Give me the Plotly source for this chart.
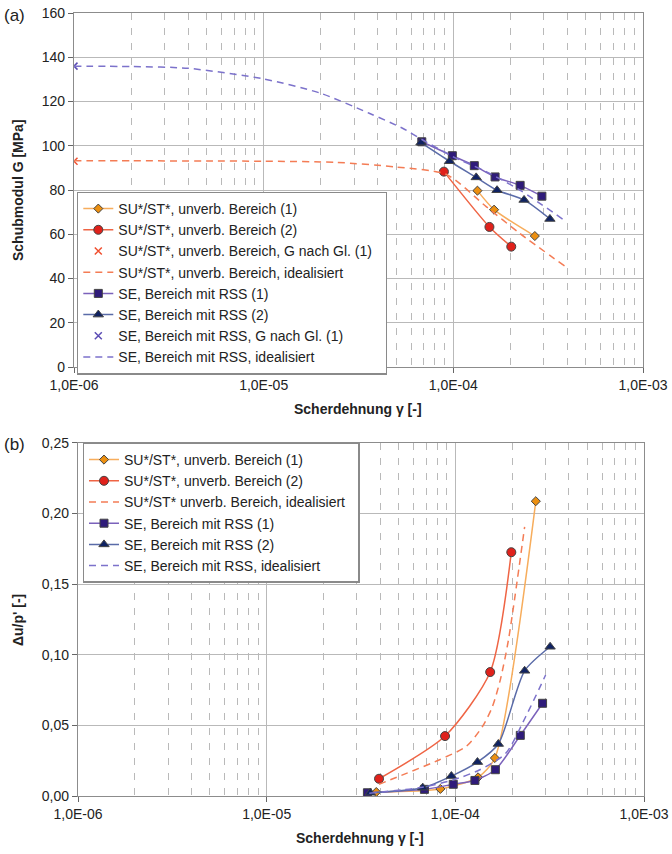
import plotly.graph_objects as go

# ---------------- data (a) ----------------
su1_x = [1.34e-4, 1.64e-4, 2.69e-4]
su1_g = [79.7, 71.1, 59.2]
su2_x = [8.92e-5, 1.55e-4, 2.02e-4]
su2_g = [88.3, 63.3, 54.4]
su_gl_x = [1e-6]
su_gl_g = [93.0]
su_id_x = [1e-6, 2e-6, 5e-6, 1e-5, 2.4e-5, 5e-5, 9.2e-5, 1.49e-4, 2.24e-4, 3.94e-4]
su_id_g = [93.2, 93.2, 93.1, 93.0, 92.5, 90.4, 87.0, 72.5, 60.4, 45.1]
se1_x = [6.82e-5, 9.88e-5, 1.29e-4, 1.66e-4, 2.25e-4, 2.93e-4]
se1_g = [101.8, 95.5, 91.0, 85.9, 82.1, 77.2]
se2_x = [6.75e-5, 9.55e-5, 1.32e-4, 1.70e-4, 2.36e-4, 3.23e-4]
se2_g = [101.4, 93.0, 85.7, 79.9, 75.5, 66.9]
se_gl_x = [1e-6]
se_gl_g = [136.0]
se_id_x = [1e-6, 2e-6, 4e-6, 1e-5, 2e-5, 3.6e-5, 5.4e-5, 6.9e-5, 1e-4, 1.49e-4, 2.24e-4, 3.94e-4]
se_id_g = [135.9, 135.8, 135.0, 130.2, 123.7, 114.7, 107.9, 102.6, 95.0, 88.3, 80.0, 65.7]

# ---------------- data (b) ----------------
b_su1_x = [3.81e-5, 8.33e-5, 1.32e-4, 1.62e-4, 2.67e-4]
b_su1_u = [0.0028, 0.005, 0.0132, 0.0269, 0.2086]
b_su2_x = [3.94e-5, 8.82e-5, 1.53e-4, 1.98e-4]
b_su2_u = [0.0122, 0.0424, 0.0877, 0.1725]
b_suid_x = [3.94e-5, 5.5e-5, 8.2e-5, 1.14e-4, 1.39e-4, 1.57e-4, 1.73e-4, 1.91e-4, 2.33e-4]
b_suid_u = [0.0083, 0.016, 0.0255, 0.035, 0.049, 0.063, 0.082, 0.110, 0.1905]
b_se1_x = [3.42e-5, 6.86e-5, 9.75e-5, 1.27e-4, 1.63e-4, 2.21e-4, 2.90e-4]
b_se1_u = [0.0023, 0.0047, 0.0083, 0.011, 0.0186, 0.0429, 0.0656]
b_se2_x = [3.54e-5, 6.72e-5, 9.53e-5, 1.31e-4, 1.69e-4, 2.33e-4, 3.18e-4]
b_se2_u = [0.0023, 0.0059, 0.0141, 0.024, 0.0368, 0.0886, 0.1056]
b_seid_x = [3.5e-5, 6.7e-5, 9.7e-5, 1.34e-4, 1.85e-4, 2.36e-4, 3.01e-4]
b_seid_u = [0.002, 0.0062, 0.0113, 0.0184, 0.0302, 0.0561, 0.0856]

x_tickvals = [1e-6, 1e-5, 1e-4, 1e-3]
x_ticktext = ["1,0E-06", "1,0E-05", "1,0E-04", "1,0E-03"]
ya_tickvals = [0, 20, 40, 60, 80, 100, 120, 140, 160]
yb_tickvals = [0, 0.05, 0.10, 0.15, 0.20, 0.25]
yb_ticktext = ["0,00", "0,05", "0,10", "0,15", "0,20", "0,25"]

# ---------------- styles ----------------
C_OR_LINE = "#f7ad5c"
C_OR_MK = "#ec8f10"
C_RD_LINE = "#ef6444"
C_RD_MK = "#e0211b"
C_RD_DASH = "#f47c55"
C_B1_LINE = "#7b62bb"
C_B1_MK = "#2f1b7a"
C_B2_LINE = "#5a6ba8"
C_B2_MK = "#0f2262"
C_B_X = "#5b4cb4"
C_B_DASH = "#7c72cb"
MK_LINE = dict(color="#444", width=1)
DASH = "7px,5px"
NB = "\u00a0\u00a0"

fig = go.Figure()

def add(x, y, name, mode, color, xa, ya, legend, marker=None, dash=None, width=1.5):
    tr = dict(x=x, y=y, name=name, mode=mode, xaxis=xa, yaxis=ya, legend=legend)
    if "lines" in mode:
        tr["line"] = dict(color=color, width=width, shape="spline", smoothing=0.7,
                          dash=dash if dash else "solid")
    if marker:
        tr["marker"] = marker
    fig.add_trace(go.Scatter(**tr))

# (a)
add(su1_x, su1_g, "SU*/ST*, unverb. Bereich (1)", "lines+markers", C_OR_LINE, "x", "y", "legend",
    marker=dict(symbol="diamond", size=7, color=C_OR_MK, line=MK_LINE))
add(su2_x, su2_g, "SU*/ST*, unverb. Bereich (2)", "lines+markers", C_RD_LINE, "x", "y", "legend",
    marker=dict(symbol="circle", size=9, color=C_RD_MK, line=MK_LINE))
add(su_gl_x, su_gl_g, "SU*/ST*, unverb. Bereich, G nach Gl. (1)" + NB, "markers", None, "x", "y", "legend",
    marker=dict(symbol="x-thin", size=7, color=C_RD_DASH, line=dict(color="#f05030", width=1.5)))
add(su_id_x, su_id_g, "SU*/ST*, unverb. Bereich, idealisiert", "lines", C_RD_DASH, "x", "y", "legend",
    dash=DASH)
add(se1_x, se1_g, "SE, Bereich mit RSS (1)", "lines+markers", C_B1_LINE, "x", "y", "legend",
    marker=dict(symbol="square", size=8, color=C_B1_MK, line=MK_LINE))
add(se2_x, se2_g, "SE, Bereich mit RSS (2)", "lines+markers", C_B2_LINE, "x", "y", "legend",
    marker=dict(symbol="triangle-up", size=9, color=C_B2_MK, line=MK_LINE))
add(se_gl_x, se_gl_g, "SE, Bereich mit RSS, G nach Gl. (1)", "markers", None, "x", "y", "legend",
    marker=dict(symbol="x-thin", size=7, color=C_B_X, line=dict(color=C_B_X, width=1.5)))
add(se_id_x, se_id_g, "SE, Bereich mit RSS, idealisiert", "lines", C_B_DASH, "x", "y", "legend",
    dash=DASH)

# (b)
add(b_su1_x, b_su1_u, "SU*/ST*, unverb. Bereich (1)", "lines+markers", C_OR_LINE, "x2", "y2", "legend2",
    marker=dict(symbol="diamond", size=7, color=C_OR_MK, line=MK_LINE))
add(b_su2_x, b_su2_u, "SU*/ST*, unverb. Bereich (2)", "lines+markers", C_RD_LINE, "x2", "y2", "legend2",
    marker=dict(symbol="circle", size=9, color=C_RD_MK, line=MK_LINE))
add(b_suid_x, b_suid_u, "SU*/ST* unverb. Bereich, idealisiert" + NB, "lines", C_RD_DASH, "x2", "y2", "legend2",
    dash=DASH)
add(b_se1_x, b_se1_u, "SE, Bereich mit RSS (1)", "lines+markers", C_B1_LINE, "x2", "y2", "legend2",
    marker=dict(symbol="square", size=8, color=C_B1_MK, line=MK_LINE))
add(b_se2_x, b_se2_u, "SE, Bereich mit RSS (2)", "lines+markers", C_B2_LINE, "x2", "y2", "legend2",
    marker=dict(symbol="triangle-up", size=9, color=C_B2_MK, line=MK_LINE))
add(b_seid_x, b_seid_u, "SE, Bereich mit RSS, idealisiert", "lines", C_B_DASH, "x2", "y2", "legend2",
    dash=DASH)

W, H = 672, 854
GRID = "#b9b9b9"
AXL = "#8c8c8c"
FONT = "Liberation Sans, Arial, sans-serif"

def xax(dom, anchor):
    return dict(type="log", range=[-6, -3], domain=dom, anchor=anchor, automargin=False,
                tickmode="array", tickvals=x_tickvals, ticktext=x_ticktext,
                showgrid=True, gridcolor=GRID, gridwidth=1.3,
                showline=True, linecolor=AXL, linewidth=1.3, mirror=True,
                ticks="outside", ticklen=5, tickcolor="#666", zeroline=False,
                tickfont=dict(size=14, color="#222"),
                minor=dict(dtick="D1", showgrid=True, gridcolor=GRID, gridwidth=1.3,
                           griddash="7px,8px", ticks=""))

def yax(dom, anchor, rng, tv, tt):
    return dict(range=rng, domain=dom, anchor=anchor, automargin=False,
                tickmode="array", tickvals=tv, ticktext=tt,
                showgrid=True, gridcolor=GRID, gridwidth=1.3,
                showline=True, linecolor=AXL, linewidth=1.3, mirror=True,
                ticks="outside", ticklen=5, tickcolor="#666", zeroline=False,
                tickfont=dict(size=14, color="#222"))

fig.update_layout(
    template="none",
    width=W, height=H, margin=dict(l=0, r=0, t=0, b=0, pad=0, autoexpand=False),
    plot_bgcolor="white", paper_bgcolor="white",
    font=dict(family=FONT, size=14, color="#222"),
    xaxis=xax([74 / W, 643 / W], "y"),
    yaxis=yax([1 - 367 / H, 1 - 13 / H], "x", [0, 160], ya_tickvals, [str(v) for v in ya_tickvals]),
    xaxis2=xax([78 / W, 644 / W], "y2"),
    yaxis2=yax([1 - 796 / H, 1 - 442.7 / H], "x2", [0, 0.25], yb_tickvals, yb_ticktext),
    legend=dict(x=77 / W, y=1 - 191.7 / H, xanchor="left", yanchor="top",
                bgcolor="white", bordercolor="#8a8a8a", borderwidth=1.3,
                font=dict(size=14, color="#222"), itemwidth=30, tracegroupgap=0),
    legend2=dict(x=82.7 / W, y=1 - 442.7 / H, xanchor="left", yanchor="top",
                 bgcolor="white", bordercolor="#8a8a8a", borderwidth=1.3,
                 font=dict(size=14, color="#222"), itemwidth=30),
    showlegend=True,
)

ann = [
    dict(text="(a)", x=2 / W, y=1 - 15 / H, xanchor="left", yanchor="middle", font=dict(size=17)),
    dict(text="(b)", x=2 / W, y=1 - 444 / H, xanchor="left", yanchor="middle", font=dict(size=17)),
    dict(text="<b>Scherdehnung γ [-]</b>", x=358 / W, y=1 - 409 / H, xanchor="center", yanchor="middle",
         font=dict(size=14)),
    dict(text="<b>Scherdehnung γ [-]</b>", x=360 / W, y=1 - 838 / H, xanchor="center", yanchor="middle",
         font=dict(size=14)),
    dict(text="<b>Schubmodul G [MPa]</b>", x=18 / W, y=1 - 190 / H, xanchor="center", yanchor="middle",
         textangle=-90, font=dict(size=14)),
    dict(text="<b>Δu/p' [-]</b>", x=18 / W, y=1 - 620 / H, xanchor="center", yanchor="middle",
         textangle=-90, font=dict(size=14)),
]
for a in ann:
    a.update(xref="paper", yref="paper", showarrow=False)
fig.update_layout(annotations=ann)

fig.write_html("out.html", config={"displayModeBar": False},
               post_script="document.body.style.margin='0';document.body.style.overflow='hidden';")
